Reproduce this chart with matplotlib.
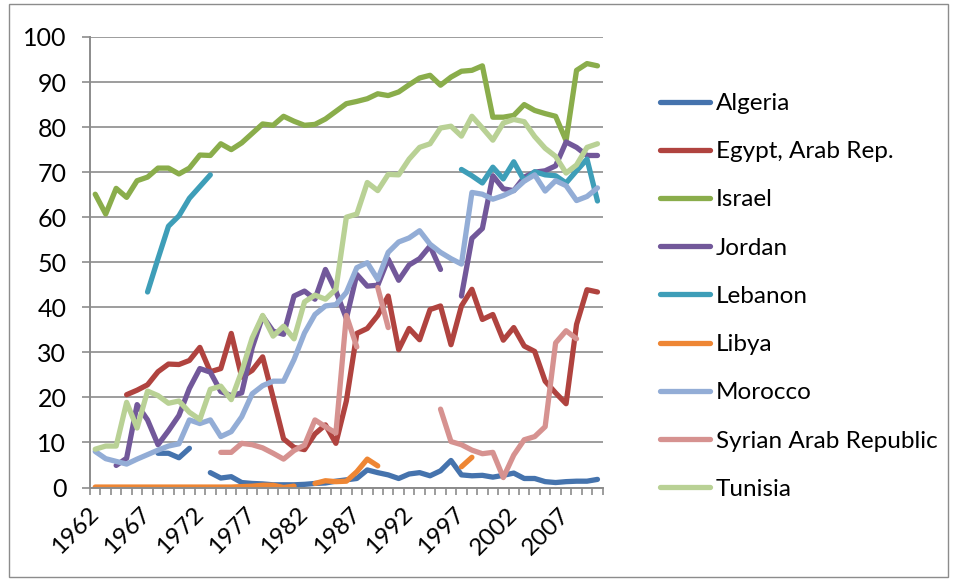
import numpy as np
import matplotlib
matplotlib.use("Agg")
import matplotlib.pyplot as plt
from matplotlib.patches import Rectangle

nan = np.nan

years = list(range(1962, 2011))

algeria = [nan, nan, nan, nan, nan, nan, 7.6, 7.6, 6.6, 8.7,
           nan, 3.3, 2.1, 2.4, 1.1, 0.9, 0.8, 0.6, 0.6, 0.6,
           0.7, 0.9, 1.0, 1.4, 1.7, 2.0, 3.9, 3.3, 2.8, 2.0,
           3.0, 3.3, 2.6, 3.7, 6.0, 2.8, 2.6, 2.7, 2.3, 2.7,
           3.2, 2.0, 2.0, 1.3, 1.1, 1.3, 1.4, 1.4, 1.8]
egypt = [nan, nan, nan, 20.6, 21.6, 22.8, 25.7, 27.4, 27.3, 28.2,
         31.1, 25.7, 26.4, 34.2, 24.5, 26.0, 29.0, 20.0, 10.8, 8.9,
         8.4, 11.9, 13.9, 9.8, 19.2, 34.2, 35.3, 38.2, 42.5, 30.6,
         35.3, 32.8, 39.5, 40.3, 31.7, 40.3, 44.0, 37.3, 38.4, 32.7,
         35.5, 31.4, 30.2, 23.6, 21.0, 18.6, 36.2, 43.9, 43.4]
israel = [65.1, 60.7, 66.4, 64.4, 68.1, 68.9, 70.9, 70.9, 69.6, 70.9,
          73.8, 73.7, 76.3, 75.0, 76.5, 78.6, 80.7, 80.4, 82.4, 81.3,
          80.4, 80.6, 81.8, 83.5, 85.2, 85.7, 86.3, 87.4, 87.0, 87.8,
          89.4, 90.9, 91.5, 89.3, 91.1, 92.4, 92.6, 93.6, 82.2, 82.2,
          82.6, 85.0, 83.7, 83.0, 82.4, 77.0, 92.6, 94.1, 93.6]
jordan = [nan, nan, 4.9, 6.5, 18.4, 15.0, 9.5, 12.6, 16.0, 22.0,
          26.4, 25.6, 21.3, 20.4, 21.0, 31.0, 38.0, 34.7, 34.0, 42.5,
          43.6, 41.8, 48.4, 43.6, 37.5, 47.3, 44.7, 44.9, 50.7, 46.0,
          49.4, 50.8, 53.6, 48.4, nan, 42.5, 55.3, 57.5, 69.2, 66.3,
          65.9, 68.9, 70.0, 70.3, 71.4, 76.7, 75.5, 73.7, 73.7]
lebanon = [nan, nan, nan, nan, nan, 43.4, 50.8, 58.0, 60.3, 64.2,
           66.8, 69.4, nan, nan, nan, nan, nan, nan, nan, nan,
           nan, nan, nan, nan, nan, nan, nan, nan, nan, nan,
           nan, nan, nan, nan, nan, 70.6, 69.2, 67.6, 71.1, 68.5,
           72.3, 68.1, 70.1, 69.4, 69.2, 67.6, 70.3, 72.9, 63.6]
libya = [0.1, 0.1, 0.1, 0.1, 0.1, 0.1, 0.1, 0.1, 0.1, 0.1,
         0.1, 0.1, 0.1, 0.1, 0.2, 0.3, 0.5, 0.5, 0.0, 0.3,
         nan, 0.9, 1.5, 1.3, 1.4, 3.5, 6.3, 4.8, nan, nan,
         nan, nan, nan, nan, nan, 4.6, 6.7, nan, nan, nan,
         nan, nan, nan, nan, nan, nan, nan, nan, nan]
morocco = [8.0, 6.4, 5.8, 5.2, 6.3, 7.3, 8.3, 9.2, 9.7, 15.0,
           14.2, 15.0, 11.3, 12.4, 15.7, 20.8, 22.6, 23.6, 23.6, 28.4,
           34.3, 38.4, 40.3, 40.6, 43.3, 48.8, 49.9, 46.2, 52.2, 54.5,
           55.4, 57.0, 54.0, 52.2, 50.8, 49.6, 65.5, 65.1, 64.0, 64.8,
           65.9, 68.0, 69.4, 65.8, 68.1, 67.0, 63.7, 64.6, 66.5]
syria = [nan, nan, nan, nan, nan, nan, nan, nan, nan, nan,
         nan, nan, 7.8, 7.8, 9.8, 9.5, 8.8, 7.6, 6.3, 8.2,
         9.4, 15.0, 13.5, 12.1, 38.2, 31.2, nan, 44.4, 35.5, nan,
         nan, nan, nan, 17.4, 10.2, 9.5, 8.3, 7.5, 7.8, 2.2,
         7.2, 10.6, 11.3, 13.5, 32.1, 34.8, 33.0, nan, nan]
tunisia = [8.5, 9.2, 9.2, 18.9, 13.2, 21.4, 20.4, 18.7, 19.2, 16.7,
           15.1, 21.8, 22.5, 19.5, 25.8, 33.2, 38.2, 33.6, 35.8, 33.0,
           41.2, 42.7, 41.8, 44.0, 60.0, 60.7, 67.7, 65.9, 69.5, 69.4,
           72.9, 75.5, 76.3, 79.8, 80.2, 78.0, 82.4, 79.8, 77.1, 80.9,
           81.7, 81.2, 77.9, 75.3, 73.5, 69.8, 71.6, 75.5, 76.3]

names = ["Algeria", "Egypt, Arab Rep.", "Israel", "Jordan", "Lebanon",
         "Libya", "Morocco", "Syrian Arab Republic", "Tunisia"]
series = [algeria, egypt, israel, jordan, lebanon, libya, morocco, syria, tunisia]
colors = ["#4573AD", "#B0433F", "#8AAD4B", "#72589A", "#3E9EB8",
          "#EE8634", "#93ADD6", "#D69290", "#B9D195"]

plt.rcParams['font.family'] = ['Lato', 'DejaVu Sans']
grid_col = "#8C8C8C"

fig = plt.figure(figsize=(9.55, 5.81), dpi=100)
ax = fig.add_axes([90 / 955, 1 - 487.5 / 581, 512.7 / 955, 450.5 / 581])

x = np.arange(len(years))
for name, vals, c in zip(names, series, colors):
    ax.plot(x, np.array(vals, dtype=float), color=c, lw=3.8, label=name,
            solid_capstyle='round', solid_joinstyle='round')

ax.set_xlim(-0.5, len(years) - 0.5)
ax.set_ylim(0, 100)
ax.set_yticks(range(0, 101, 10))
ax.yaxis.grid(True, color=grid_col, lw=1.2)
ax.set_axisbelow(True)

ax.set_xticks(x[::5])
ax.set_xticklabels([str(y) for y in years[::5]], rotation=45, ha='right',
                   va='center', rotation_mode='anchor')
ax.set_xticks(np.arange(-0.5, len(years), 1), minor=True)
ax.tick_params(axis='x', which='major', length=0, pad=17, labelsize=17.5)
ax.tick_params(axis='x', which='minor', length=5, color=grid_col, width=1.2)
ax.tick_params(axis='y', length=6, color=grid_col, width=1.2, pad=11, labelsize=18)

for s in ['top', 'right']:
    ax.spines[s].set_visible(False)
for s in ['left', 'bottom']:
    ax.spines[s].set_color(grid_col)
    ax.spines[s].set_linewidth(1.4)

ax.legend(loc='upper left', bbox_to_anchor=(660 / 955, 1 - 93 / 581),
          bbox_transform=fig.transFigure, frameon=False, fontsize=17.5,
          handlelength=2.05, handletextpad=0.25, labelspacing=1.12,
          borderpad=0, borderaxespad=0)

fig.patches.append(Rectangle((9 / 955, 4 / 581), 939 / 955, 573 / 581,
                             transform=fig.transFigure, fill=False,
                             edgecolor="#8C8C8C", lw=1.0))

fig.savefig("out.png", dpi=100)
